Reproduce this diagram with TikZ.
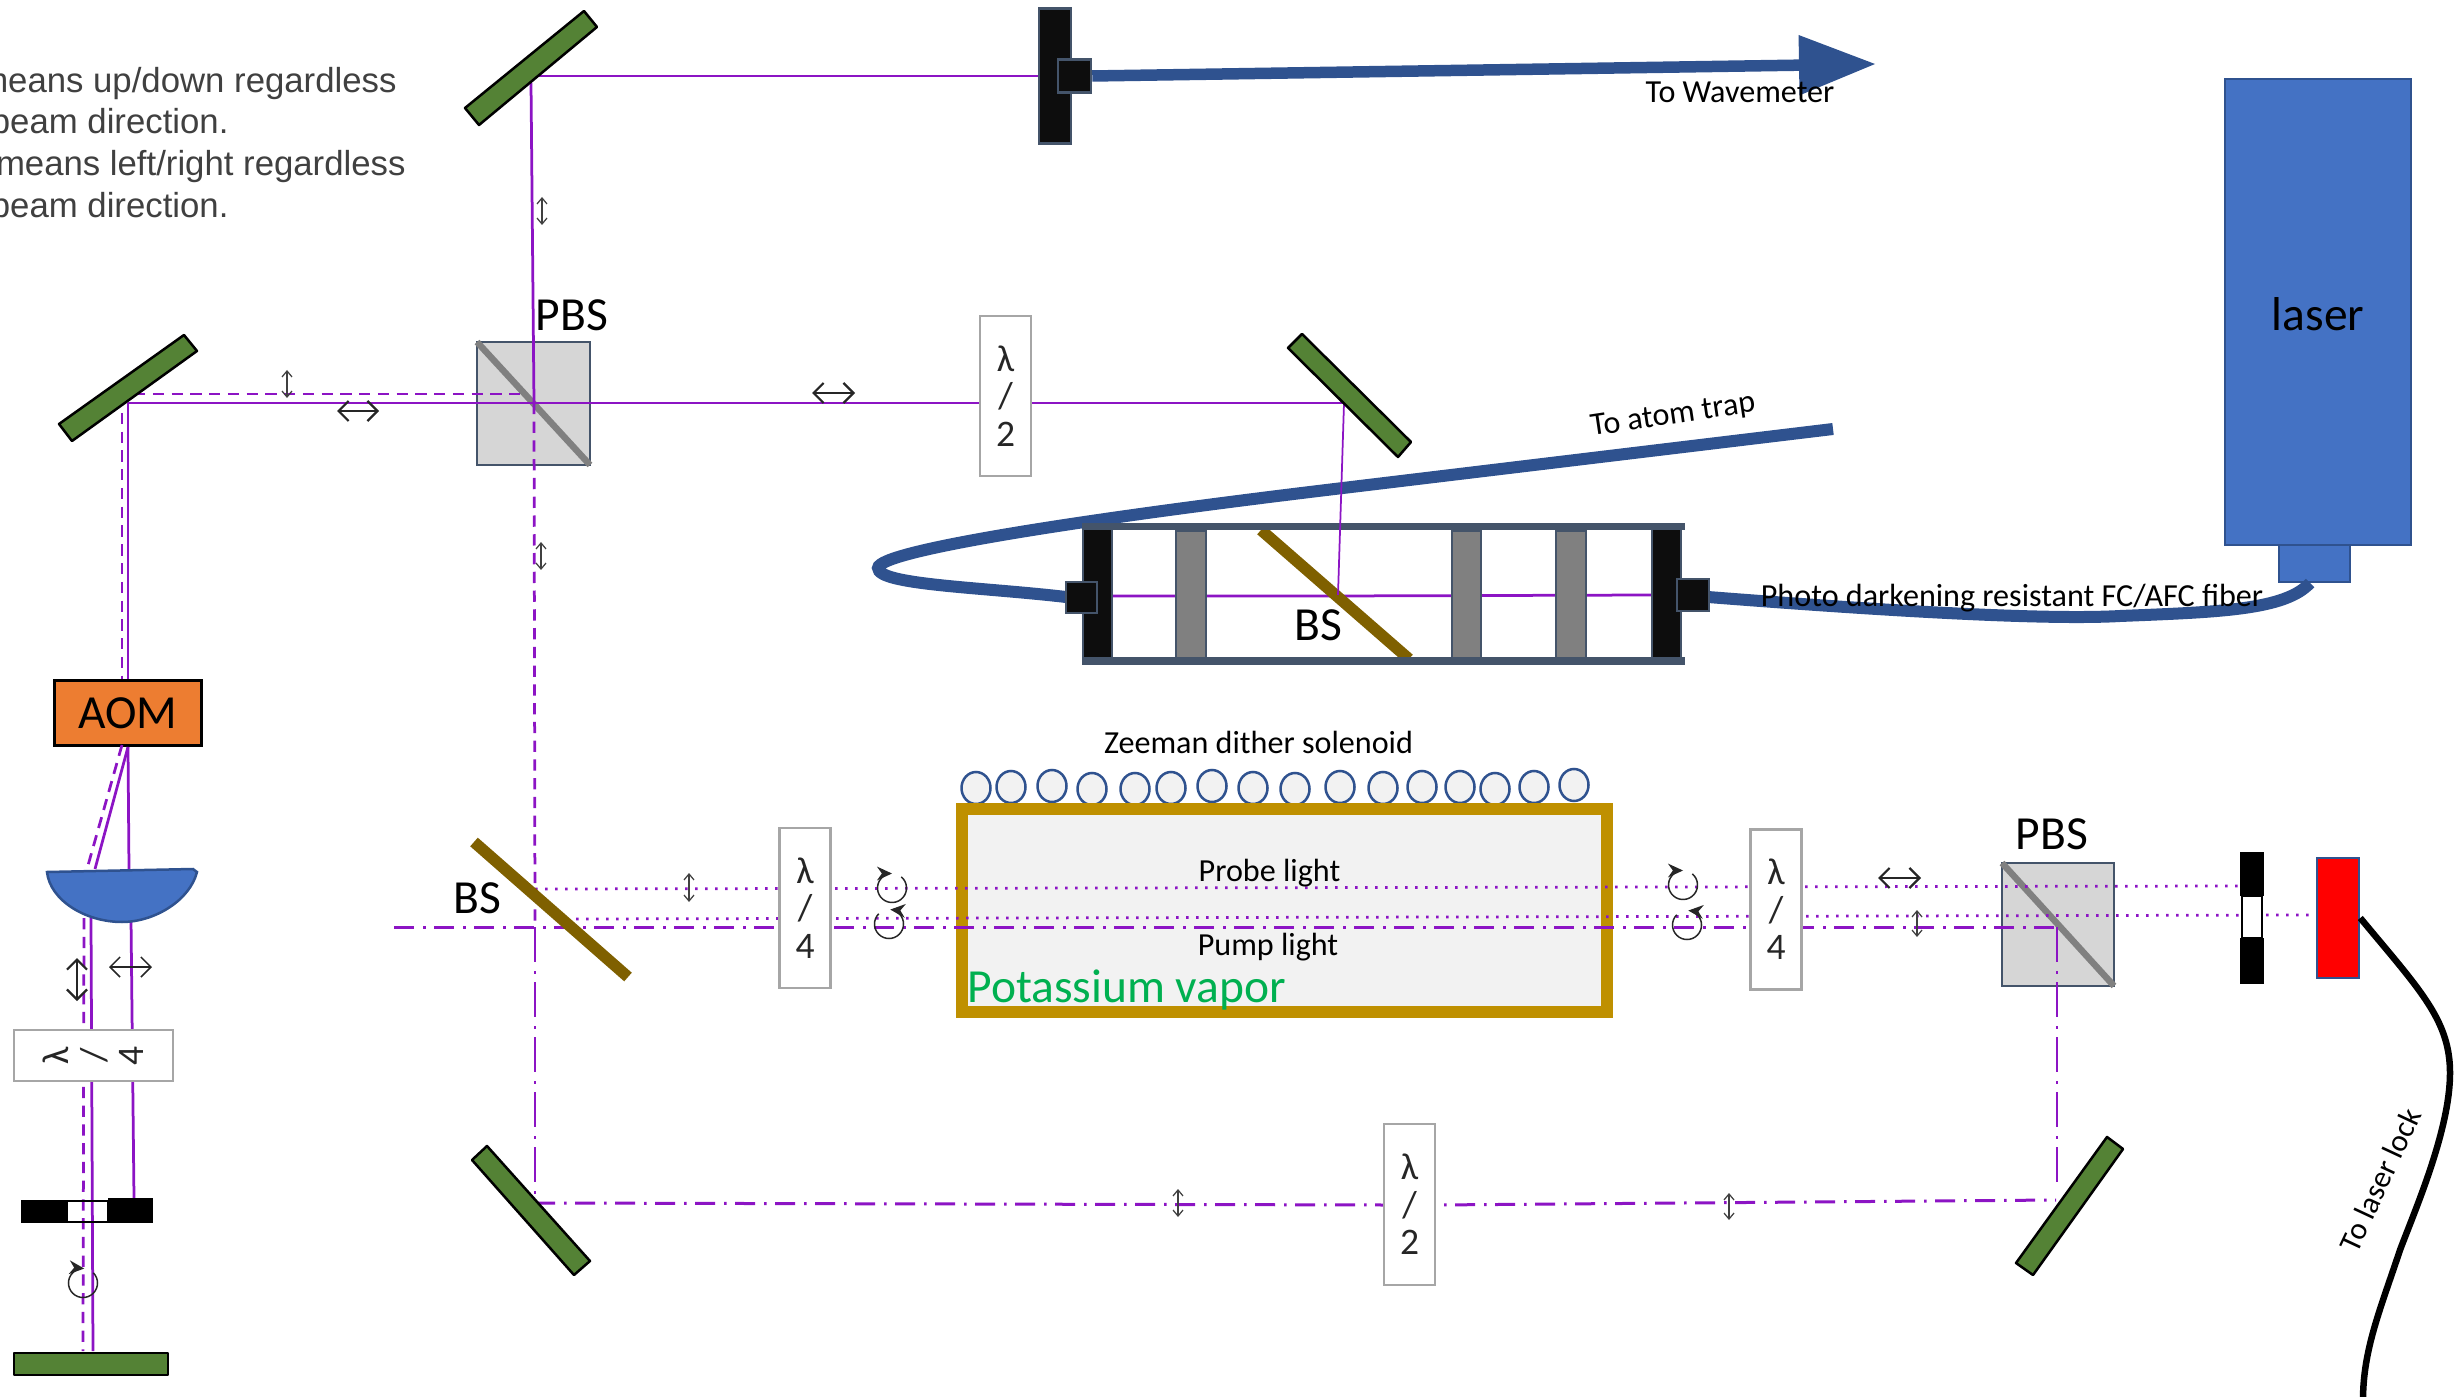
\documentclass[tikz,border=0pt]{standalone}
\usepackage{fontspec}
\setmainfont{Carlito}
\newfontfamily\notefont{Liberation Sans}
\usetikzlibrary{arrows.meta}
\definecolor{BEAM}{HTML}{8C14C4}
\definecolor{MIRROR}{HTML}{548235}
\definecolor{SLATE}{HTML}{44546A}
\definecolor{DEEP}{HTML}{2F528F}
\definecolor{LASER}{HTML}{4472C4}
\definecolor{SPLIT}{HTML}{7F6000}
\definecolor{CELL}{HTML}{BF9000}
\definecolor{GLASS}{HTML}{F2F2F2}
\definecolor{AOMFILL}{HTML}{ED7D31}
\definecolor{VAPOR}{HTML}{00B050}
\definecolor{NOTE}{HTML}{404040}
\begin{document}
\begin{tikzpicture}[x=0.4pt,y=-0.4pt]
\tikzset{beam/.style={BEAM,line width=1.1pt},thinbeam/.style={BEAM,line width=0.7pt},
 dashbeam/.style={beam,dash pattern=on 4.5pt off 3pt},dotbeam/.style={beam,dash pattern=on 1pt off 3pt},
 chainbeam/.style={beam,line width=1.2pt,dash pattern=on 8pt off 3.6pt on 1pt off 3.4pt},
 chainthin/.style={thinbeam,dash pattern=on 14pt off 3.6pt on 1pt off 3.4pt},
 mirror/.style={fill=MIRROR,draw=black,line width=1pt,line join=round},
 cube/.style={fill=black!16,draw=SLATE,line width=1pt},diag/.style={black!50,line width=2.6pt},
 split/.style={SPLIT,line width=4.6pt},fiber/.style={DEEP,line width=4.8pt},
 blackbar/.style={fill=black!95,draw=SLATE,line width=1pt},post/.style={fill=black!50,draw=SLATE,line width=1pt},
 blue/.style={fill=LASER,draw=DEEP,line width=1pt},
 plate/.style={draw=black!35,fill=white,line width=1pt,inner sep=0pt,align=center,text=black!85,
  font=\fontsize{15}{15}\selectfont,minimum width=20.4pt,minimum height=64pt},
 big/.style={inner sep=0pt,font=\fontsize{19}{21}\selectfont},small/.style={inner sep=0pt,font=\fontsize{12.85}{14}\selectfont},
 note/.style={inner sep=0pt,anchor=base east,text=NOTE,font=\notefont\fontsize{13.9}{15}\selectfont},
 updown/.style={{Straight Barb[length=2.4pt,width=4pt]}-{Straight Barb[length=2.4pt,width=4pt]},NOTE,line width=0.5pt},
 leftright/.style={{Straight Barb[length=4pt,width=8pt]}-{Straight Barb[length=4pt,width=8pt]},black!85,line width=0.9pt},
 polring/.style={black!85,line width=0.6pt,-{Stealth[length=6pt,width=5.5pt]}}}
\useasboundingbox (0,0) rectangle (2458,1397);
% text at top left
\node[note] (up1) at (397,93) {means up/down regardless};
\node[note] (up2) at (229,134) {beam direction.};
\node[note] (lr1) at (406,176) {means left/right regardless};
\node[note] (lr2) at (229,218) {beam direction.};
% laser and fibers
\draw[blue] (2279,545) rectangle (2350,582);
\node[blue,inner sep=0pt,minimum width=74.4pt,minimum height=186.4pt] (laser) at (2318,312) {};
\node[big] (laserlab) at (2318,314) {laser};
\coordinate (fibA) at (1708,597);\coordinate (fibB) at (2310,583);\coordinate (fibC) at (1066,597);\coordinate (fibD) at (1833,429);
\draw[fiber] (fibA) .. controls (1900,612) and (2050,620) .. (2120,616) .. controls (2220,612) and (2285,610) .. (fibB);
\draw[fiber] (fibD) -- (1343,488) .. controls (1100,517) and (878,550) .. (878,568) .. controls (878,585) and (980,587) .. (fibC);
% cage with beam splitter
\draw[beam] (1112,596)--(1335,596)--(1652,595);
\draw[split] (1261,530)--(1409,659);
\foreach \xa/\xb in {1176/1206,1452/1481,1556/1586}{\draw[post] (\xa,531) rectangle (\xb,660);}
\draw[blackbar] (1083,528) rectangle (1112,662);
\draw[blackbar] (1652,528) rectangle (1681,662);
\draw[SLATE,fill=SLATE] (1082,524) rectangle (1684,530);
\draw[SLATE,fill=SLATE] (1082,658) rectangle (1684,665);
\draw[blackbar] (1066,582) rectangle (1097,613);
\draw[blackbar] (1677,579) rectangle (1709,611);
\node[big] (bsa) at (1318,625) {BS};
\node[small] (fiblab) at (2012,598) {Photo darkening resistant FC/AFC fiber};
\node[small,rotate=8.5] (traplab) at (1673,416) {To atom trap};
% wavemeter
\coordinate (hitTop) at (538,76);
\node[blackbar,inner sep=0pt,minimum width=12.8pt,minimum height=54pt] (wmbar) at (1055,76) {};
\draw[beam] (hitTop)--(wmbar.west);
\node[blackbar,inner sep=0pt,minimum width=13.2pt,minimum height=13.2pt] (wmport) at (1074.5,76) {};
\coordinate (wmtip) at (1876,64);
\draw[DEEP,line width=4.6pt,-{Triangle[length=30.8pt,width=22.8pt]}] (wmport.east)--(wmtip);
\node[small] (wmlab) at (1740,92) {To Wavemeter};
% upper beam paths
\coordinate (hitLeft) at (128,403);\coordinate (hitPbs) at (534,403);\coordinate (hitRight) at (1344,403);
\draw[cube] (477,342) rectangle (590,465);
\draw[diag] (477,342)--(590,465);
\draw[beam] (531,83)--(hitPbs);
\draw[beam] (hitLeft)--(hitRight);
\draw[thinbeam] (hitRight)--(1338,595);
\draw[dashbeam] (134,394)--(520,394);
\draw[dashbeam] (122,413)--(122,683);
\draw[dashbeam] (hitPbs)--(535,927);
\draw[chainthin] (535,927)--(535,1203);
\node[big] (pbsa) at (572,315) {PBS};
\draw[mirror] (584,11)--(597,27)--(479,125)--(465,108)--cycle;
\draw[mirror] (184,335)--(197,351)--(72,441)--(59,424)--cycle;
\draw[mirror] (1302,334)--(1411,442)--(1398,457)--(1288,348)--cycle;
\node[plate] (hwa) at (1005.5,396) {λ\\/\\2};
\draw[updown] (542,197)--(542,225);
\draw[updown] (287,370)--(287,398);
\draw[leftright] (337,411)--(379,411);
\draw[leftright] (812,393)--(855,393);
\draw[updown] (541,542)--(541,570);
% AOM leg
\node[draw=black,fill=AOMFILL,line width=1.2pt,inner sep=0pt,minimum width=59pt,minimum height=26pt,big] (aom) at (128,713) {AOM};
\draw[beam] (hitLeft)--(aom.north);
\draw[beam] (aom.south)--(95,869);
\draw[beam] (aom.south)--(129,869);
\draw[dashbeam] (122,745)--(87,869);
\draw[dashbeam] (84,918)--(83,1351);
\draw[beam] (91,918)--(93,1351);
\draw[beam] (131,918)--(134,1198);
\draw[fill=LASER,draw=DEEP,line width=1pt] (47,872)--(193,869)--(197,872) .. controls (190,900) and (155,922) .. (122,922) .. controls (85,922) and (50,900) .. (47,872)--cycle;
\draw[leftright] (77,958)--(77,1001);
\draw[leftright,line width=0.6pt] (109,967)--(152,967);
\node[plate,rotate=90,minimum width=20.4pt,minimum height=63.6pt] (qwc) at (93.5,1055.5) {λ\\/\\4};
\draw[black,line width=1pt] (67,1201) rectangle (108,1222);
\fill[black] (21,1200) rectangle (67,1223);
\fill[black] (108,1198) rectangle (153,1223);
\draw[mirror] (14,1353) rectangle (168,1375);
% vapor cell and solenoid
\node[small] (coil) at (1258.5,742) {Zeeman dither solenoid};
\foreach \cx/\cy in {976/788,1011/787,1052/786,1092/789,1135/789,1171/788,1212/786,1253/788,1295/789,1340/787,1383/788,1422/787,1460/787,1495/789,1534/787,1574/785}{
 \draw[DEEP,fill=GLASS,line width=1pt] (\cx,\cy) ellipse (14.5 and 16);}
\draw[CELL,fill=GLASS,line width=4.8pt] (961.5,809) rectangle (1607,1012);
% lower beams
\draw[cube] (2002,863) rectangle (2114,986);
\draw[diag] (2002,863)--(2114,986);
\coordinate (hitBs) at (535,889);\coordinate (hitBsb) at (576,919);
\draw[dotbeam] (hitBs)--(2239,886);
\draw[dotbeam] (hitBsb)--(2317,915);
\draw[chainbeam] (394,927)--(2057,927);
\draw[chainthin] (2057,927)--(2057,1187);
\draw[chainbeam] (535,1203)--(1384,1205)--(1435,1205)--(2056,1200);
\draw[split] (474,842)--(628,977);
\node[big] (bsb) at (477,898) {BS};
\node[big] (pbsb) at (2052,834) {PBS};
\node[small] (probe) at (1269.5,873) {Probe light};
\node[small] (pump) at (1268,947) {Pump light};
\node[big,text=VAPOR,anchor=west] (vapor) at (967,990) {Potassium vapor};
\node[plate] (qwa) at (805,908) {λ\\/\\4};
\node[plate] (qwb) at (1776,909.5) {λ\\/\\4};
\node[plate,minimum height=64.4pt] (hwb) at (1409.5,1204.5) {λ\\/\\2};
\draw[mirror] (487,1146)--(472,1160)--(574,1275)--(590,1261)--cycle;
\draw[mirror] (2107,1137)--(2123,1149)--(2033,1275)--(2016,1263)--cycle;
\draw[updown] (689,873)--(689,902);
\draw[updown] (1917,910)--(1917,937);
\draw[updown] (1178,1189)--(1178,1217);
\draw[updown] (1729,1193)--(1729,1220);
\draw[leftright] (1878,878)--(1921,878);
% polarisation rings
\foreach \cx/\cy/\st/\en in {83/1283/-45/275,892/888/-50/270,889/924/-135/-445,1683/885/-50/270,1687/925/-135/-445}{
 \draw[polring] (\cx,\cy) ++(\st:14.5 and 14.5) arc[start angle=\st,end angle=\en,x radius=14.5,y radius=14.5];}
% detector end
\fill[black] (2240,852) rectangle (2264,896);
\fill[black] (2240,938) rectangle (2264,984);
\draw[black,line width=1pt,fill=white] (2242,896) rectangle (2262,938);
\node[draw=DEEP,fill=red,line width=1pt,inner sep=0pt,minimum width=16.8pt,minimum height=48pt] (det) at (2338,918) {};
\draw[black,line width=2.6pt] (det.east) .. controls (2420,990) and (2450,1020) .. (2450,1073) .. controls (2450,1130) and (2415,1210) .. (2400,1250) .. controls (2380,1310) and (2363,1350) .. (2363,1400);
\node[small,rotate=65,font=\fontsize{12.4}{14}\selectfont] (locklab) at (2380,1180) {To laser lock};
\end{tikzpicture}
\end{document}
